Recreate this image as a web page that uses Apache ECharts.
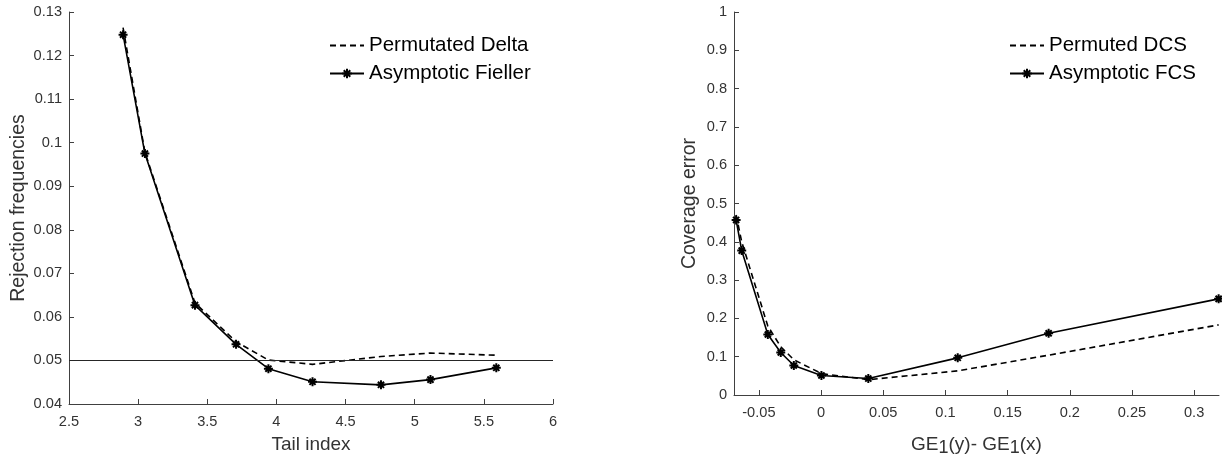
<!DOCTYPE html>
<html>
<head>
<meta charset="utf-8">
<script src="https://cdn.jsdelivr.net/npm/echarts@6/dist/echarts.min.js"></script>
<style>
html,body{margin:0;padding:0;background:#fff;}
#chart{width:1222px;height:459px;}
</style>
</head>
<body>
<div id="chart"></div>
<script>
// ---- Left panel data ----
const tailIndex = [2.891, 3.049, 3.411, 3.708, 3.942, 4.261, 4.756, 5.114, 5.590];
const permutatedDelta = [0.1264, 0.0978, 0.0632, 0.0543, 0.0501, 0.0491, 0.0509, 0.0517, 0.0512];
const asymptoticFieller = [0.1248, 0.0975, 0.0627, 0.0537, 0.0481, 0.0451, 0.0444, 0.0456, 0.0483];
const referenceLevel = 0.05;

// ---- Right panel data ----
const geDiff = [-0.0683, -0.0638, -0.0428, -0.0324, -0.0219, 0.0003, 0.0380, 0.1099, 0.1830, 0.3197];
const permutedDCS = [0.470, 0.400, 0.180, 0.126, 0.092, 0.056, 0.040, 0.063, 0.104, 0.183];
const asymptoticFCS = [0.457, 0.377, 0.158, 0.111, 0.077, 0.051, 0.043, 0.097, 0.161, 0.251];

// ---- Tick labels ----
const rightXTicks = [-0.05, 0, 0.05, 0.1, 0.15, 0.2, 0.25, 0.3];

const FONT = '"Liberation Sans", Arial, Helvetica, sans-serif';
const AX = '#404040';
const TXT = '#333333';
const star = 'path://M5,0L5,10M0,5L10,5M1.6,1.6L8.4,8.4M1.6,8.4L8.4,1.6';

function pairs(xs, ys){ return xs.map((x,i)=>[x, ys[i]]); }

function valueAxis(extra){
  return Object.assign({
    type:'value',
    splitLine:{show:false},
    axisLine:{show:true, onZero:false, lineStyle:{color:AX, width:1}},
    axisTick:{show:true, inside:true, length:5, lineStyle:{color:AX}},
    axisLabel:{color:TXT, fontFamily:FONT, fontSize:14.6, margin:7},
    nameTextStyle:{color:TXT, fontFamily:FONT, fontSize:19.5},
    nameLocation:'middle'
  }, extra);
}

const hiddenMarker = {opacity:0, color:'rgba(0,0,0,0)', borderWidth:0};

const chart = echarts.init(document.getElementById('chart'), null, {renderer:'canvas'});
chart.setOption({
  animation:false,
  backgroundColor:'#fff',
  grid:[
    {left:69, right:669, top:12, bottom:55, containLabel:false, outerBoundsMode:'none'},
    {left:734, right:3, top:12, bottom:64, containLabel:false, outerBoundsMode:'none'}
  ],
  legend:[
    {
      data:[{name:'Permutated Delta', itemStyle:hiddenMarker}, 'Asymptotic Fieller'],
      orient:'vertical', left:324, top:30,
      itemWidth:34, itemHeight:12, itemGap:7,
      textStyle:{color:'#000', fontFamily:FONT, fontSize:20.5}
    },
    {
      data:[{name:'Permuted DCS', itemStyle:hiddenMarker}, 'Asymptotic FCS'],
      orient:'vertical', left:1004, top:30,
      itemWidth:34, itemHeight:12, itemGap:7,
      textStyle:{color:'#000', fontFamily:FONT, fontSize:20.5}
    }
  ],
  xAxis:[
    valueAxis({gridIndex:0, min:2.5, max:6, interval:0.5, name:'Tail index', nameGap:31,
      nameTextStyle:{color:TXT, fontFamily:FONT, fontSize:19},
      axisLabel:{color:TXT, fontFamily:FONT, fontSize:14.6, margin:10}}),
    valueAxis({gridIndex:1, min:-0.07, max:0.32,
      name:'{n|GE}{s|1}{n|(y)- GE}{s|1}{n|(x)}', nameGap:28,
      nameTextStyle:{color:TXT, fontFamily:FONT, fontSize:19,
        rich:{n:{fontFamily:FONT, fontSize:19, color:TXT, verticalAlign:'top', lineHeight:22},
              s:{fontFamily:FONT, fontSize:18, color:TXT, verticalAlign:'bottom', lineHeight:22, padding:[14,0,0,0]}}},
      axisTick:{show:true, inside:true, length:5, lineStyle:{color:AX}, customValues:rightXTicks},
      axisLabel:{color:TXT, fontFamily:FONT, fontSize:14.6, margin:10, customValues:rightXTicks}
    })
  ],
  yAxis:[
    valueAxis({gridIndex:0, min:0.04, max:0.13, interval:0.01, name:'Rejection frequencies', nameGap:40}),
    valueAxis({gridIndex:1, min:0, max:1, interval:0.1, name:'Coverage error', nameGap:34})
  ],
  series:[
    {
      name:'Permutated Delta', type:'line', xAxisIndex:0, yAxisIndex:0,
      data:pairs(tailIndex, permutatedDelta), symbol:'none',
      lineStyle:{color:'#000', width:1.6, type:[6,4]}, itemStyle:{color:'#000'},
      markLine:{
        silent:true, symbol:'none', label:{show:false},
        lineStyle:{color:'#262626', width:1, type:'solid'},
        data:[{yAxis:referenceLevel}]
      },
      z:3
    },
    {
      name:'Asymptotic Fieller', type:'line', xAxisIndex:0, yAxisIndex:0,
      data:pairs(tailIndex, asymptoticFieller), symbol:star, symbolSize:9,
      showSymbol:true,
      lineStyle:{color:'#000', width:1.6},
      itemStyle:{color:'#000', borderColor:'#000', borderWidth:2},
      z:4
    },
    {
      name:'Permuted DCS', type:'line', xAxisIndex:1, yAxisIndex:1,
      data:pairs(geDiff, permutedDCS), symbol:'none',
      lineStyle:{color:'#000', width:1.6, type:[6,4]}, itemStyle:{color:'#000'},
      z:3
    },
    {
      name:'Asymptotic FCS', type:'line', xAxisIndex:1, yAxisIndex:1,
      data:pairs(geDiff, asymptoticFCS), symbol:star, symbolSize:9,
      showSymbol:true,
      lineStyle:{color:'#000', width:1.6},
      itemStyle:{color:'#000', borderColor:'#000', borderWidth:2},
      z:4
    }
  ]
});
</script>
</body>
</html>
